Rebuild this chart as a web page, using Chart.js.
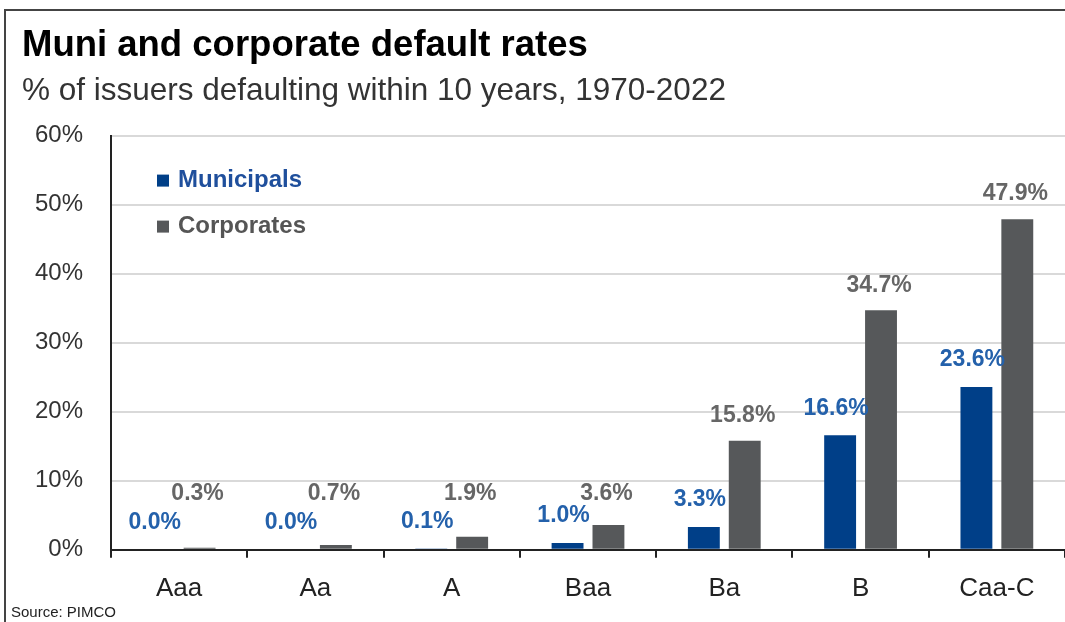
<!DOCTYPE html>
<html>
<head>
<meta charset="utf-8">
<title>Muni and corporate default rates</title>
<script src="https://cdn.jsdelivr.net/npm/chart.js@4.4.1/dist/chart.umd.min.js"></script>
<style>
  html, body { margin: 0; padding: 0; background: #fff; overflow: hidden; }
  #wrap { position: relative; width: 1065px; height: 622px; }
</style>
</head>
<body>
<div id="wrap"><canvas id="myChart" width="1065" height="622"></canvas></div>
<script>
const ratings = ['Aaa', 'Aa', 'A', 'Baa', 'Ba', 'B', 'Caa-C'];
const municipals = [0.0, 0.0, 0.1, 1.0, 3.3, 16.6, 23.6];
const corporates = [0.3, 0.7, 1.9, 3.6, 15.8, 34.7, 47.9];
const yTicks = [0, 10, 20, 30, 40, 50, 60];

const FONT = '"Liberation Sans", Arial, Helvetica, sans-serif';
Chart.defaults.font.family = FONT;

// frame lines at top and left of the figure, plus the source note
const framePlugin = {
    id: 'frame',
    beforeDraw(chart) {
        const c = chart.ctx;
        c.save();
        c.fillStyle = '#fff';
        c.fillRect(0, 0, chart.width, chart.height);
        c.strokeStyle = '#444';
        c.lineWidth = 2;
        c.beginPath();
        c.moveTo(5, chart.height);
        c.lineTo(5, 10);
        c.lineTo(chart.width, 10);
        c.stroke();
        c.restore();
    },
    afterDraw(chart) {
        const c = chart.ctx;
        c.save();
        c.font = '15px ' + FONT;
        c.fillStyle = '#222';
        c.textBaseline = 'middle';
        c.fillText('Source: PIMCO', 11, chart.height - 9);
        c.restore();
    }
};

// legend drawn inside the plot area, stacked
const legendPlugin = {
    id: 'innerLegend',
    afterDraw(chart) {
        const c = chart.ctx;
        const area = chart.chartArea;
        const colors = ['#1f4f9c', '#555'];
        c.save();
        c.font = 'bold 24px ' + FONT;
        c.textBaseline = 'middle';
        chart.data.datasets.forEach((ds, i) => {
            const y = area.top + 45 + i * 46;
            c.fillStyle = ds.backgroundColor;
            c.fillRect(area.left + 46, y - 6, 12, 12);
            c.fillStyle = colors[i];
            c.fillText(ds.label, area.left + 67, y);
        });
        c.restore();
    }
};

// value labels above the bars
const valueLabels = {
    id: 'valueLabels',
    afterDatasetsDraw(chart) {
        const c = chart.ctx;
        const base = chart.scales.y.getPixelForValue(0);
        c.save();
        c.font = 'bold 23px ' + FONT;
        c.textAlign = 'center';
        c.textBaseline = 'middle';
        chart.data.datasets.forEach((ds, i) => {
            const meta = chart.getDatasetMeta(i);
            meta.data.forEach((bar, j) => {
                let x, y;
                if (i === 0) {
                    x = bar.x - 4;
                    y = bar.y - 27;
                    c.fillStyle = '#2461ab';
                } else {
                    x = bar.x - 2;
                    y = Math.min(bar.y - 25, base - 56);
                    c.fillStyle = '#666';
                }
                c.fillText(ds.data[j].toFixed(1) + '%', x, y);
            });
        });
        c.restore();
    }
};

const ctx = document.getElementById('myChart').getContext('2d');
const myChart = new Chart(ctx, {
    type: 'bar',
    data: {
        labels: ratings,
        datasets: [{
            label: 'Municipals',
            data: municipals,
            backgroundColor: '#003f88',
            categoryPercentage: 0.6,
            barPercentage: 0.78
        }, {
            label: 'Corporates',
            data: corporates,
            backgroundColor: '#56585a',
            categoryPercentage: 0.6,
            barPercentage: 0.78
        }]
    },
    options: {
        responsive: false,
        animation: false,
        layout: {
            padding: { left: 22, right: 0, top: 18, bottom: 3 }
        },
        plugins: {
            legend: { display: false },
            tooltip: { enabled: false },
            title: {
                display: true,
                text: 'Muni and corporate default rates',
                align: 'start',
                color: '#000',
                font: { size: 36.5, weight: 'bold' },
                padding: { top: 6, bottom: 5 }
            },
            subtitle: {
                display: true,
                text: '% of issuers defaulting within 10 years, 1970-2022',
                align: 'start',
                color: '#333',
                font: { size: 31.5 },
                padding: { top: 0, bottom: 25 }
            }
        },
        scales: {
            x: {
                offset: true,
                grid: {
                    display: true,
                    drawOnChartArea: false,
                    offset: true,
                    tickLength: 8,
                    color: '#222',
                    lineWidth: 2
                },
                border: { display: true, color: '#222', width: 2 },
                ticks: {
                    color: '#222',
                    font: { size: 26 },
                    padding: 15
                }
            },
            y: {
                min: 0,
                max: 60,
                afterBuildTicks(axis) {
                    axis.ticks = yTicks.map(v => ({ value: v }));
                },
                afterFit(axis) {
                    axis.width = 89;
                },
                grid: {
                    color: '#d9d9d9',
                    lineWidth: 2,
                    drawTicks: false
                },
                border: { display: true, color: '#222', width: 2 },
                ticks: {
                    color: '#333',
                    font: { size: 24 },
                    padding: 28,
                    callback: v => v + '%'
                }
            }
        }
    },
    plugins: [framePlugin, legendPlugin, valueLabels]
});
</script>
</body>
</html>
